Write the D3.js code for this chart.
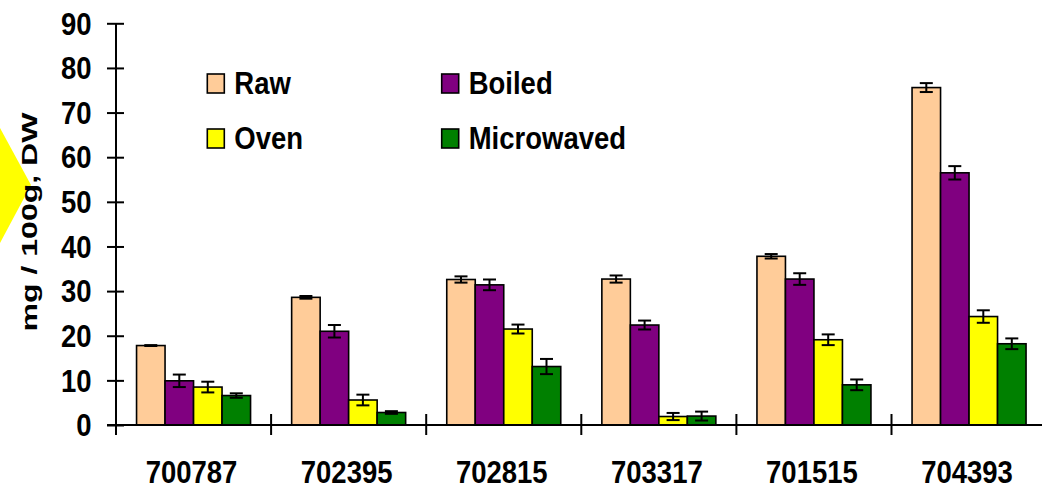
<!DOCTYPE html>
<html>
<head>
<meta charset="utf-8">
<script src="https://cdn.jsdelivr.net/npm/d3@7/dist/d3.min.js"></script>
<style>
  html, body { margin: 0; padding: 0; background: #fff; }
  svg { display: block; font-family: "Liberation Sans", Arial, sans-serif; font-weight: bold; }
</style>
</head>
<body>
<svg id="chart" width="1042" height="488"></svg>
<script>
// Cultivar codes on the x axis
const categories = ["700787", "702395", "702815", "703317", "701515", "704393"];
// Cooking treatments (legend order)
const seriesNames = ["Raw", "Boiled", "Oven", "Microwaved"];
const seriesColors = ["#FFCC99", "#800080", "#FFFF00", "#008000"];

// Mean content, mg / 100g DW
const raw        = [17.8, 28.6, 32.6, 32.7, 37.8, 75.6];
const boiled     = [9.9, 21.0, 31.4, 22.4, 32.7, 56.5];
const oven       = [8.5, 5.6, 21.5, 1.9, 19.1, 24.3];
const microwaved = [6.6, 2.8, 13.1, 2.0, 9.0, 18.2];

// Error (± value) for each mean
const rawErr        = [0.1, 0.3, 0.7, 0.8, 0.5, 1.0];
const boiledErr     = [1.4, 1.4, 1.2, 1.0, 1.3, 1.5];
const ovenErr       = [1.2, 1.2, 1.0, 0.8, 1.2, 1.4];
const microwavedErr = [0.5, 0.3, 1.7, 1.0, 1.2, 1.2];

const yTicks = [0, 10, 20, 30, 40, 50, 60, 70, 80, 90];
const yTitle = "mg / 100g, DW";

const values = [raw, boiled, oven, microwaved];
const errors = [rawErr, boiledErr, ovenErr, microwavedErr];

const svg = d3.select("#chart");
const textScaleY = 1.12;
const fontSize = 27.5;

// Decorative diamond behind the axis title
svg.append("polygon")
  .attr("points", "0,128 31,185 0,243")
  .attr("fill", "#FFFF00");

const left = 116, step = 155.1;
const x0 = d3.scaleBand()
  .domain(categories)
  .range([left, left + step * categories.length])
  .paddingInner(0.265)
  .paddingOuter(0.1325);
const x1 = d3.scaleBand()
  .domain(seriesNames)
  .range([0, x0.bandwidth()]);
const y = d3.scaleLinear().domain([0, 90]).range([425, 23.3]);

// Bars
const rows = [];
categories.forEach((c, i) => {
  seriesNames.forEach((s, j) => {
    rows.push({ cat: c, series: s, color: seriesColors[j], v: values[j][i], e: errors[j][i] });
  });
});

svg.append("g").selectAll("rect")
  .data(rows)
  .join("rect")
  .attr("x", d => x0(d.cat) + x1(d.series))
  .attr("y", d => y(d.v))
  .attr("width", x1.bandwidth())
  .attr("height", d => y(0) - y(d.v))
  .attr("fill", d => d.color)
  .attr("stroke", "#000")
  .attr("stroke-width", 1.6);

// Error bars
const eg = svg.append("g").attr("stroke", "#000").attr("stroke-width", 2);
rows.forEach(d => {
  const cx = x0(d.cat) + x1(d.series) + x1.bandwidth() / 2;
  const top = y(d.v + d.e), bot = y(d.v - d.e);
  eg.append("line").attr("x1", cx).attr("x2", cx).attr("y1", top).attr("y2", bot);
  eg.append("line").attr("x1", cx - 6.5).attr("x2", cx + 6.5).attr("y1", top).attr("y2", top);
  eg.append("line").attr("x1", cx - 6.5).attr("x2", cx + 6.5).attr("y1", bot).attr("y2", bot);
});

// Y axis
const yAxis = svg.append("g")
  .attr("transform", `translate(${left},0)`)
  .call(d3.axisLeft(y).tickValues(yTicks).tickSizeOuter(0).tickSizeInner(9));
yAxis.select(".domain").attr("stroke-width", 2).attr("d", `M0,${y(90)}V435`);
yAxis.selectAll(".tick line").attr("x1", -9).attr("x2", 8).attr("stroke-width", 2);
yAxis.selectAll(".tick text")
  .attr("x", -24.5)
  .attr("dy", "0.35em")
  .attr("transform", `scale(1,${textScaleY})`)
  .attr("font-size", fontSize)
  .attr("font-family", "Liberation Sans, Arial, sans-serif")
  .attr("font-weight", "bold")
  .attr("fill", "#000");

// X axis
const xAxis = svg.append("g")
  .attr("transform", `translate(0,${y(0)})`)
  .call(d3.axisBottom(x0).tickSize(0).tickSizeOuter(0));
xAxis.select(".domain").attr("stroke-width", 2).attr("d", `M${left - 9},0H1042`);
xAxis.selectAll(".tick text")
  .attr("y", 0).attr("dy", 0)
  .attr("transform", `translate(-2,58) scale(1,${textScaleY})`)
  .attr("font-size", fontSize)
  .attr("font-family", "Liberation Sans, Arial, sans-serif")
  .attr("font-weight", "bold")
  .attr("fill", "#000");

// Category boundary ticks
const bounds = d3.range(categories.length + 1).map(k => x0.range()[0] + k * x0.step());
svg.append("g").selectAll("line")
  .data(bounds)
  .join("line")
  .attr("x1", d => d).attr("x2", d => d)
  .attr("y1", y(0) - 11).attr("y2", y(0) + 10)
  .attr("stroke", "#000").attr("stroke-width", 2);

// Y axis title, stretched along its length to span 219px
const title = svg.append("text")
  .attr("text-anchor", "middle")
  .attr("font-size", 21.5)
  .attr("fill", "#000")
  .text(yTitle);
const natural = title.node().getComputedTextLength() || 150;
title.attr("transform", `translate(36.5,222) rotate(-90) scale(${219 / natural},1)`);

// Legend, two columns by two rows
const legendPos = [[207.3, 74], [441.7, 74], [207.3, 129], [441.7, 129]];
const lg = svg.append("g").selectAll("g")
  .data(seriesNames)
  .join("g")
  .attr("transform", (d, i) => `translate(${legendPos[i][0]},${legendPos[i][1]})`);
lg.append("rect")
  .attr("width", 17).attr("height", 19)
  .attr("fill", (d, i) => seriesColors[i])
  .attr("stroke", "#000").attr("stroke-width", 1.6);
lg.append("text")
  .attr("transform", `translate(27,19.5) scale(1,${textScaleY})`)
  .attr("font-size", fontSize)
  .attr("fill", "#000")
  .text(d => d);
</script>
</body>
</html>
